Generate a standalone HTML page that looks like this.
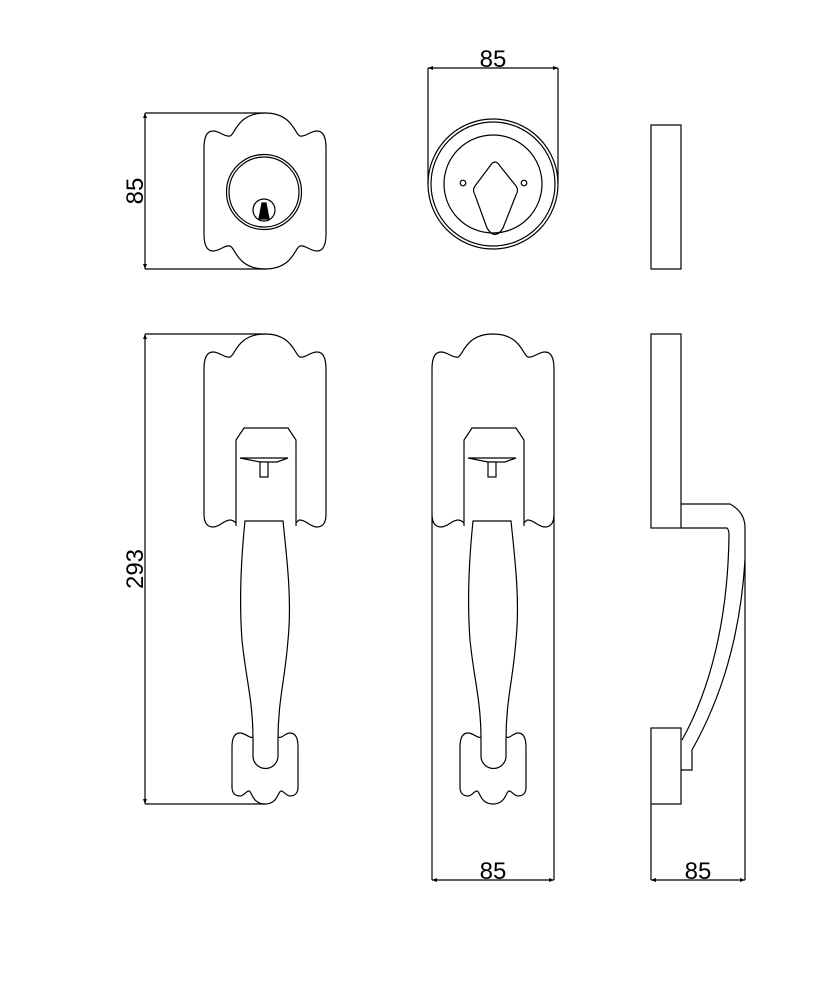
<!DOCTYPE html>
<html><head><meta charset="utf-8"><style>
html,body{margin:0;padding:0;background:#fff}
svg{display:block}
text{font-family:"Liberation Sans",Arial,sans-serif;font-size:24px;fill:#000}
</style></head><body>
<svg width="838" height="986" viewBox="0 0 838 986" xmlns="http://www.w3.org/2000/svg">
<defs>
<path id="topsc" d="M0,35 C0,22 4,18 9,18 C16,18 20,24 26,23 C31,22 33,0 61,0 C89,0 91,22 96,23 C102,24 106,18 113,18 C118,18 122,22 122,35"/>
<path id="esc" d="M0,20 C0,10 3,6 8,6 C14,6 17,12 22,10 L46,10 C50,12 53,6 58,6 C63,6 66,10 66,20 L66,60 C66,66 63,69 58,69 C54,69 52,64 49,64 C46,64 46,77 33,77 C20,77 20,64 17,64 C14,64 12,69 8,69 C3,69 0,66 0,60 Z"/>
<g id="handle">
<path d="M236,526 L236,440 L244,428 L288,428 L296,440 L296,526" fill="#fff"/>
<path d="M240,458 L288,458 L277,462 L260,462 Z" fill="#fff"/>
<rect x="260" y="462" width="8" height="15" fill="#fff"/>
<use href="#esc" x="232" y="727" fill="#fff"/>
<path d="M245,521 L283,521 C287,560 292,600 288,640 C285,680 278,700 278,740 L278,756 A12.5,12.5 0 0 1 253,756 L253,740 C253,700 246,680 242,640 C239,600 241,560 245,521 Z" fill="#fff"/>
</g>
</defs>
<g fill="none" stroke="#000" stroke-width="1.2">
<g transform="translate(204,113)">
<use href="#topsc"/>
<path d="M0,35 L0,121 C0,134 4,138 9,138 C16,138 20,132 26,133 C31,134 33,156 61,156 C89,156 91,134 96,133 C102,132 106,138 113,138 C118,138 122,134 122,121 L122,35"/>
</g>
<circle cx="264" cy="192" r="37.5"/>
<circle cx="264" cy="192" r="35"/>
<circle cx="264" cy="210" r="11"/>
<path d="M259,219 L262,203 L266,203 L269,219 Z" fill="#000"/>
<path d="M145,113 L265,113 M145,269 L265,269 M145,113 L145,269"/>

<g transform="translate(204,334)">
<use href="#topsc"/>
<path d="M0,35 L0,180 C0,190 4,193 9,193 C16,193 20,186 26,186 C29,186 31,188 32,189 M122,35 L122,180 C122,190 118,193 113,193 C106,193 102,186 96,186 C94,186 93,188 92,189"/>
</g>
<use href="#handle"/>
<path d="M145,334 L265,334 M145,804 L265,804 M145,334 L145,804"/>

<g transform="translate(432,334)">
<use href="#topsc"/>
<path d="M0,35 L0,546 M122,35 L122,546 M0,180 C0,190 4,193 9,193 C16,193 20,186 26,186 C29,186 31,188 32,189 M122,180 C122,190 118,193 113,193 C106,193 102,186 96,186 C94,186 93,188 92,189"/>
</g>
<g transform="translate(228,0)"><use href="#handle"/></g>
<path d="M432,880 L554,880"/>

<path d="M428,68 L558,68 M428,68 L428,184 M558,68 L558,184"/>
<circle cx="493" cy="184" r="65"/>
<circle cx="493" cy="184" r="62"/>
<circle cx="493" cy="184" r="49"/>
<path d="M490,166 Q495,158 500,166 L516,186 Q519,190 516,195 L503,228 Q495,241 487,228 L475,195 Q472,190 475,186 Z"/>
<circle cx="463" cy="183" r="2.8"/>
<circle cx="524" cy="183" r="2.8"/>

<rect x="651" y="125" width="30" height="144"/>
<rect x="651" y="334" width="30" height="194"/>
<rect x="651" y="728" width="30" height="76"/>
<path d="M681,504 L730,504 Q745,512 745,528 L745,880"/>
<path d="M681,528 L727,528 Q729,530 729,535 C728,620 710,690 682,740"/>
<path d="M745,560 C740,640 720,700 692,750 L692,770 L681,770"/>
<path d="M651,804 L651,880 M651,880 L745,880"/>
</g>
<g fill="#000">
<path d="M428,68 l5,-2 v4 z M558,68 l-5,-2 v4 z M432,880 l5,-2 v4 z M554,880 l-5,-2 v4 z M651,880 l5,-2 v4 z M745,880 l-5,-2 v4 z M145,113 l-2,5 h4 z M145,269 l-2,-5 h4 z M145,334 l-2,5 h4 z M145,804 l-2,-5 h4 z"/>
</g>
<text x="493" y="67" text-anchor="middle">85</text>
<text x="493" y="879" text-anchor="middle">85</text>
<text x="698" y="879" text-anchor="middle">85</text>
<text transform="translate(143,191) rotate(-90)" text-anchor="middle">85</text>
<text transform="translate(143,569) rotate(-90)" text-anchor="middle">293</text>
</svg>
</body></html>
